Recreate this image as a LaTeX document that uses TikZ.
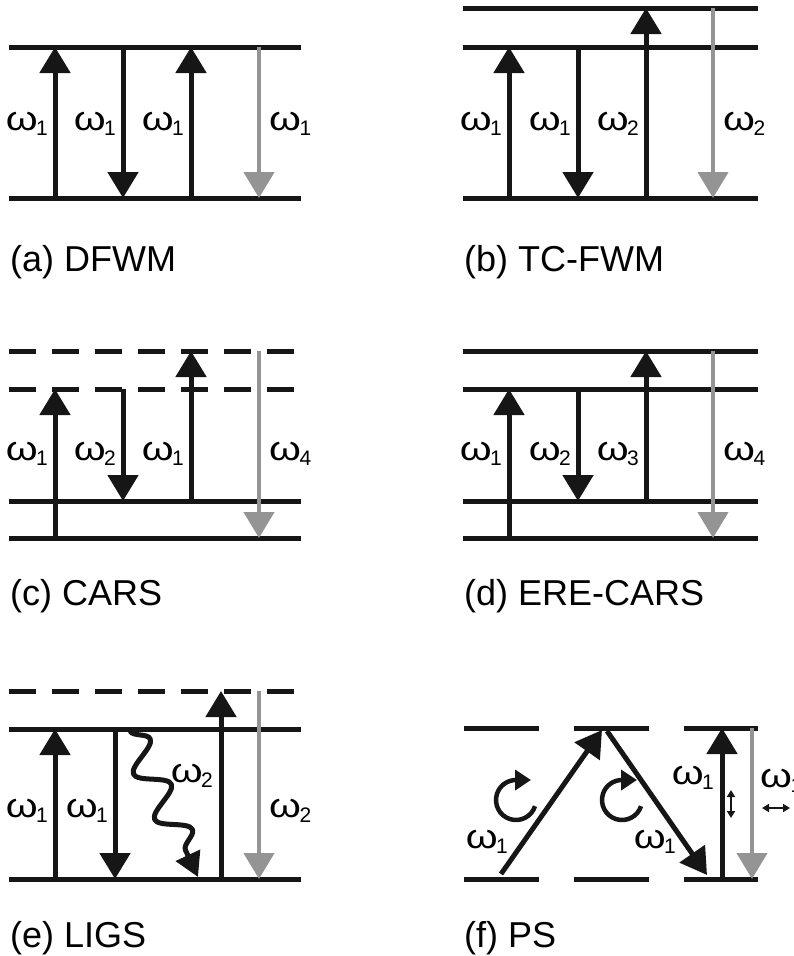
\documentclass[tikz,border=0pt]{standalone}
\usepackage{fontspec}
\setmainfont{Liberation Sans}
\usetikzlibrary{arrows.meta,decorations.pathmorphing}
\definecolor{ink}{RGB}{22,22,22}
\definecolor{faint}{RGB}{148,148,148}
% frequency label: a broad omega with a lowered index
\newcommand\omlab[1]{\scalebox{1.2}[1]{ω}\kern-1.5pt\raisebox{-5pt}{\fontsize{21}{21}\selectfont #1}}
\tikzset{
  level/.style={draw=ink, line width=5pt},
  virtual/.style={level, dash pattern=on 27pt off 16pt},
  pump/.style={draw=ink, line width=5pt, -{Triangle[width=30pt,length=26pt]}},
  signal/.style={draw=faint, line width=4.5pt, -{Triangle[width=30pt,length=26pt]}},
  relax/.style={draw=ink, line width=5pt, line join=round, -{Triangle[width=26pt,length=24pt]},
    decorate, decoration={snake, amplitude=15pt, segment length=50pt, post length=28pt}},
  spin/.style={draw=ink, line width=4.5pt, -{Triangle[width=20pt,length=16pt]}},
  pol/.style={draw=ink, line width=2pt, {Triangle[width=8pt,length=7pt]}-{Triangle[width=8pt,length=7pt]}},
  wlab/.style={inner sep=0pt, font=\fontsize{34}{34}\selectfont},
  lbl/.style={wlab, anchor=base east},
  rlbl/.style={wlab, anchor=base west},
  panelname/.style={inner sep=0pt, anchor=base west, font=\fontsize{36}{36}\selectfont},
}
\begin{document}
\begin{tikzpicture}[x=1pt, y=-1pt]
\useasboundingbox (0,0) rectangle (793,956);

% ---------------- (a) DFWM ----------------
\coordinate (aG0) at (9,198);  \coordinate (aG1) at (301,198);
\coordinate (aE0) at (9,47);   \coordinate (aE1) at (301,47);
\draw[level] (aG0) -- (aG1);
\draw[level] (aE0) -- (aE1);
\coordinate (a1s) at (55,198);  \coordinate (a1e) at (55,47);
\coordinate (a2s) at (123,47);  \coordinate (a2e) at (123,198);
\coordinate (a3s) at (191,198); \coordinate (a3e) at (191,47);
\coordinate (a4s) at (259,47);  \coordinate (a4e) at (259,198);
\draw[pump] (a1s) -- (a1e);
\draw[pump] (a2s) -- (a2e);
\draw[pump] (a3s) -- (a3e);
\draw[signal] (a4s) -- (a4e);
\node[lbl] (aw1) at (48,130) {\omlab{1}};
\node[lbl] (aw2) at (116,130) {\omlab{1}};
\node[lbl] (aw3) at (184,130) {\omlab{1}};
\node[rlbl] (aw4) at (269,130) {\omlab{1}};
\node[panelname] (capa) at (10,271) {(a) DFWM};

% ---------------- (b) TC-FWM ----------------
\coordinate (bG0) at (463,198); \coordinate (bG1) at (758,198);
\coordinate (bE0) at (463,47);  \coordinate (bE1) at (758,47);
\coordinate (bF0) at (463,8);   \coordinate (bF1) at (758,8);
\draw[level] (bG0) -- (bG1);
\draw[level] (bE0) -- (bE1);
\draw[level] (bF0) -- (bF1);
\coordinate (b1s) at (509,198); \coordinate (b1e) at (509,47);
\coordinate (b2s) at (578,47);  \coordinate (b2e) at (578,198);
\coordinate (b3s) at (646,198); \coordinate (b3e) at (646,8);
\coordinate (b4s) at (713,8);   \coordinate (b4e) at (713,198);
\draw[pump] (b1s) -- (b1e);
\draw[pump] (b2s) -- (b2e);
\draw[pump] (b3s) -- (b3e);
\draw[signal] (b4s) -- (b4e);
\node[lbl] (bw1) at (502,130) {\omlab{1}};
\node[lbl] (bw2) at (571,130) {\omlab{1}};
\node[lbl] (bw3) at (639,130) {\omlab{2}};
\node[rlbl] (bw4) at (723,130) {\omlab{2}};
\node[panelname] (capb) at (464,271) {(b) TC-FWM};

% ---------------- (c) CARS ----------------
\coordinate (cG0) at (9,538);  \coordinate (cG1) at (301,538);
\coordinate (cV0) at (9,501);  \coordinate (cV1) at (301,501);
\coordinate (cX0) at (9,389);  \coordinate (cX1) at (301,389);
\coordinate (cY0) at (9,351);  \coordinate (cY1) at (301,351);
\draw[level] (cG0) -- (cG1);
\draw[level] (cV0) -- (cV1);
\draw[virtual] (cX0) -- (cX1);
\draw[virtual] (cY0) -- (cY1);
\coordinate (c1s) at (55,538);  \coordinate (c1e) at (55,389);
\coordinate (c2s) at (123,389); \coordinate (c2e) at (123,501);
\coordinate (c3s) at (191,501); \coordinate (c3e) at (191,351);
\coordinate (c4s) at (259,351); \coordinate (c4e) at (259,538);
\draw[pump] (c1s) -- (c1e);
\draw[pump] (c2s) -- (c2e);
\draw[pump] (c3s) -- (c3e);
\draw[signal] (c4s) -- (c4e);
\node[lbl] (cw1) at (48,460) {\omlab{1}};
\node[lbl] (cw2) at (116,460) {\omlab{2}};
\node[lbl] (cw3) at (184,460) {\omlab{1}};
\node[rlbl] (cw4) at (269,460) {\omlab{4}};
\node[panelname] (capc) at (10,605) {(c) CARS};

% ---------------- (d) ERE-CARS ----------------
\coordinate (dG0) at (463,538); \coordinate (dG1) at (758,538);
\coordinate (dV0) at (463,501); \coordinate (dV1) at (758,501);
\coordinate (dX0) at (463,389); \coordinate (dX1) at (758,389);
\coordinate (dY0) at (463,351); \coordinate (dY1) at (758,351);
\draw[level] (dG0) -- (dG1);
\draw[level] (dV0) -- (dV1);
\draw[level] (dX0) -- (dX1);
\draw[level] (dY0) -- (dY1);
\coordinate (d1s) at (509,538); \coordinate (d1e) at (509,389);
\coordinate (d2s) at (578,389); \coordinate (d2e) at (578,501);
\coordinate (d3s) at (646,501); \coordinate (d3e) at (646,351);
\coordinate (d4s) at (713,351); \coordinate (d4e) at (713,538);
\draw[pump] (d1s) -- (d1e);
\draw[pump] (d2s) -- (d2e);
\draw[pump] (d3s) -- (d3e);
\draw[signal] (d4s) -- (d4e);
\node[lbl] (dw1) at (502,460) {\omlab{1}};
\node[lbl] (dw2) at (571,460) {\omlab{2}};
\node[lbl] (dw3) at (639,460) {\omlab{3}};
\node[rlbl] (dw4) at (723,460) {\omlab{4}};
\node[panelname] (capd) at (464,605) {(d) ERE-CARS};

% ---------------- (e) LIGS ----------------
\coordinate (eG0) at (9,879);  \coordinate (eG1) at (301,879);
\coordinate (eE0) at (9,729);  \coordinate (eE1) at (301,729);
\coordinate (eX0) at (9,691);  \coordinate (eX1) at (301,691);
\draw[level] (eG0) -- (eG1);
\draw[level] (eE0) -- (eE1);
\draw[virtual] (eX0) -- (eX1);
\coordinate (e1s) at (55,879);  \coordinate (e1e) at (55,729);
\coordinate (e2s) at (115,729); \coordinate (e2e) at (115,879);
\coordinate (e3s) at (130,731); \coordinate (e3e) at (198,877);
\coordinate (e4s) at (221,879); \coordinate (e4e) at (221,691);
\coordinate (e5s) at (259,691); \coordinate (e5e) at (259,879);
\draw[pump] (e1s) -- (e1e);
\draw[pump] (e2s) -- (e2e);
\draw[relax] (e3s) -- (e3e);
\draw[pump] (e4s) -- (e4e);
\draw[signal] (e5s) -- (e5e);
\node[lbl] (ew1) at (48,817) {\omlab{1}};
\node[lbl] (ew2) at (108,817) {\omlab{1}};
\node[lbl] (ew3) at (213,782) {\omlab{2}};
\node[rlbl] (ew4) at (269,817) {\omlab{2}};
\node[panelname] (cape) at (10,947) {(e) LIGS};

% ---------------- (f) PS ----------------
\coordinate (fA0) at (464,879); \coordinate (fA1) at (539,879);
\coordinate (fB0) at (574,879); \coordinate (fB1) at (649,879);
\coordinate (fC0) at (684,879); \coordinate (fC1) at (758,879);
\coordinate (fD0) at (464,728); \coordinate (fD1) at (539,728);
\coordinate (fE0) at (574,728); \coordinate (fE1) at (649,728);
\coordinate (fF0) at (684,728); \coordinate (fF1) at (758,728);
\draw[level] (fA0) -- (fA1);
\draw[level] (fB0) -- (fB1);
\draw[level] (fC0) -- (fC1);
\draw[level] (fD0) -- (fD1);
\draw[level] (fE0) -- (fE1);
\draw[level] (fF0) -- (fF1);
\coordinate (f1s) at (501,874); \coordinate (f1e) at (602,730);
\coordinate (f2s) at (607,731); \coordinate (f2e) at (707,875);
\coordinate (f3s) at (722,879); \coordinate (f3e) at (722,728);
\coordinate (f4s) at (752,728); \coordinate (f4e) at (752,879);
\draw[pump] (f1s) -- (f1e);
\draw[pump] (f2s) -- (f2e);
\draw[pump] (f3s) -- (f3e);
\draw[signal] (f4s) -- (f4e);
% circular polarisation symbols: open circle ending in a rightward head at the top
\coordinate (fc1) at (516,800);
\coordinate (fc2) at (622,800);
\draw[spin] (fc1) ++(18:20) arc[start angle=18, end angle=270, radius=20] -- ++(15,0);
\draw[spin] (fc2) ++(18:20) arc[start angle=18, end angle=270, radius=20] -- ++(15,0);
% linear polarisation symbols
\coordinate (fp1s) at (731,790); \coordinate (fp1e) at (731,818);
\coordinate (fp2s) at (762,808); \coordinate (fp2e) at (790,808);
\draw[pol] (fp1s) -- (fp1e);
\draw[pol] (fp2s) -- (fp2e);
\node[lbl] (fw1) at (508,848) {\omlab{1}};
\node[lbl] (fw2) at (676,848) {\omlab{1}};
\node[lbl] (fw3) at (714,784) {\omlab{1}};
\node[rlbl] (fw4) at (760,787) {\omlab{1}};
\node[panelname] (capf) at (464,947) {(f) PS};
\end{tikzpicture}
\end{document}
